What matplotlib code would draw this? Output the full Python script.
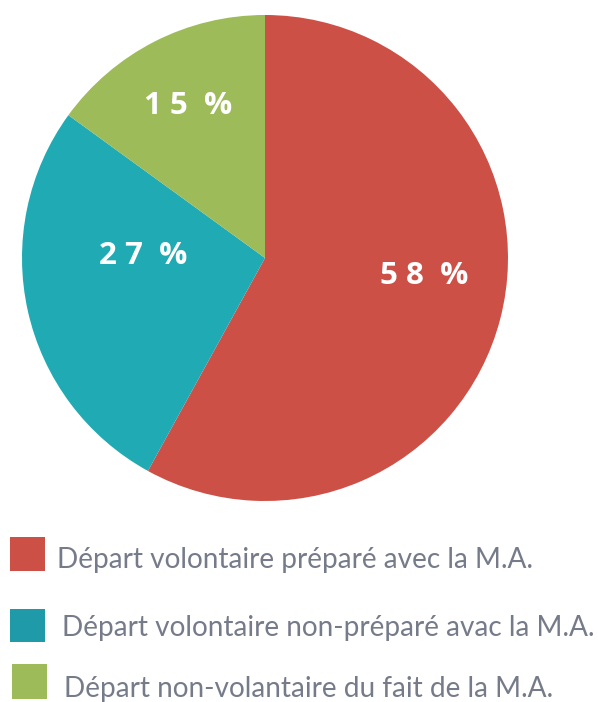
import matplotlib.pyplot as plt
from matplotlib.patches import Rectangle
import numpy as np

# data
labels = ["Départ volontaire préparé avec la M.A.",
          "Départ volontaire non-préparé avac la M.A.",
          "Départ non-volantaire du fait de la M.A."]
values = [58, 27, 15]
pct_text = ["5 8  %", "2 7  %", "1 5  %"]
colors = ["#CD5047", "#20AAB4", "#9DBB59"]
legend_colors = ["#CD5047", "#1E9AA8", "#9DBB59"]

W, H = 598, 702
fig = plt.figure(figsize=(W / 100, H / 100), dpi=100)

# pie axes: center (265, 258) px, radius 243 px
cx, cy, r = 265, 258, 243
ax = fig.add_axes([(cx - r) / W, (H - cy - r) / H, 2 * r / W, 2 * r / H])
wedges, _ = ax.pie(values, colors=colors, startangle=90, counterclock=False,
                   wedgeprops=dict(linewidth=0))
ax.set_xlim(-1, 1)
ax.set_ylim(-1, 1)
ax.set_aspect("auto")
ax.axis("off")

# label placement (radius factor, angle offset in degrees) relative to wedge middle
label_pos = [(0.66, 8.0), (0.50, -13.5), (0.70, 0.0)]
for w, txt, (rf, dang) in zip(wedges, pct_text, label_pos):
    mid = np.deg2rad((w.theta1 + w.theta2) / 2 + dang)
    ax.text(rf * np.cos(mid), rf * np.sin(mid), txt, ha="center", va="center",
            color="white", fontsize=22.5, fontweight="bold", family="Open Sans")

# legend drawn by hand
rows = [(10, 537, 571, 57, 568), (10, 609, 642, 62, 636), (12, 664, 699, 64, 697)]
for (sx, y0, y1, tx, base), c, lab in zip(rows, legend_colors, labels):
    fig.patches.append(Rectangle((sx / W, (H - y1) / H), 35 / W, (y1 - y0) / H,
                                 transform=fig.transFigure, color=c, lw=0))
    fig.text(tx / W, (H - base) / H, lab, ha="left", va="baseline",
             color="#767B8A", fontsize=20.2, family="Lato")

fig.savefig("out.png", dpi=100, facecolor="white")
